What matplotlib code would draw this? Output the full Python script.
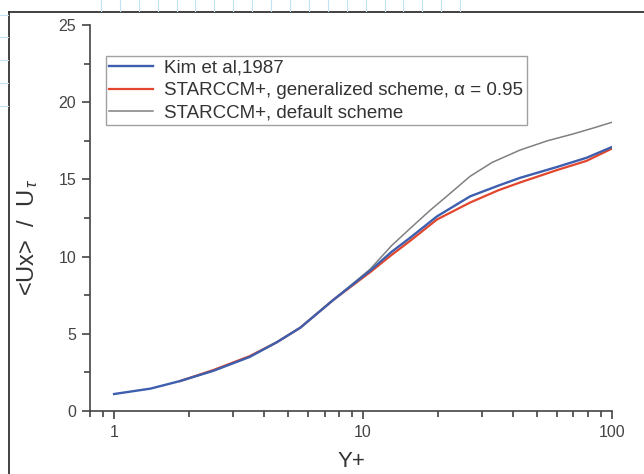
import matplotlib.pyplot as plt
from matplotlib.lines import Line2D
from matplotlib.ticker import LogLocator, FixedLocator, MultipleLocator, NullFormatter

plt.rcParams['font.family'] = ['Liberation Sans', 'DejaVu Sans']
plt.rcParams['mathtext.fontset'] = 'custom'
plt.rcParams['mathtext.rm'] = 'Liberation Sans'
plt.rcParams['mathtext.it'] = 'Liberation Sans:italic'

# Kim et al. (1987) DNS profile
kim_y = [1.0, 1.4, 1.84, 2.5, 3.5, 4.5, 5.6, 7.6, 10.7, 13.0, 15.4, 19.8, 26.9, 35.0, 42.7, 60.0, 79.0, 100.0]
kim_u = [1.1, 1.45, 1.94, 2.6, 3.5, 4.45, 5.4, 7.2, 9.1, 10.3, 11.2, 12.6, 13.9, 14.6, 15.1, 15.8, 16.4, 17.1]

# STAR-CCM+ generalized scheme
gen_y = [1.84, 2.5, 3.5, 4.5, 5.6, 7.6, 10.7, 13.0, 15.4, 19.8, 26.9, 35.0, 42.7, 60.0, 79.0, 100.0]
gen_u = [1.94, 2.65, 3.55, 4.45, 5.4, 7.2, 9.0, 10.1, 11.0, 12.4, 13.5, 14.3, 14.8, 15.6, 16.2, 17.0]

# STAR-CCM+ default scheme
def_y = [1.84, 2.5, 3.5, 4.5, 5.6, 7.6, 10.7, 13.0, 15.4, 18.6, 22.4, 26.9, 33.0, 42.7, 55.0, 70.0, 85.0, 100.0]
def_u = [1.94, 2.6, 3.5, 4.45, 5.4, 7.2, 9.2, 10.7, 11.8, 13.0, 14.1, 15.2, 16.1, 16.9, 17.5, 17.95, 18.35, 18.7]

fig = plt.figure(figsize=(6.44, 4.74), dpi=100)
ax = fig.add_axes([90 / 644, 1 - 411 / 474, 522 / 644, 386 / 474])

ax.plot(def_y, def_u, color='#808080', lw=1.1, zorder=2, label='STARCCM+, default scheme')
ax.plot(gen_y, gen_u, color='#e2462c', lw=1.6, zorder=3,
        label='STARCCM+, generalized scheme, \u03b1 = 0.95')
ax.plot(kim_y, kim_u, color='#3d5fae', lw=1.7, zorder=4, label='Kim et al,1987')

ax.set_xscale('log')
ax.set_xlim(0.8, 100)
ax.set_ylim(0, 25)

for s in ['top', 'right']:
    ax.spines[s].set_visible(False)
for s in ['left', 'bottom']:
    ax.spines[s].set_color('#444444')
    ax.spines[s].set_linewidth(1.2)

ax.xaxis.set_major_locator(FixedLocator([1, 10, 100]))
ax.xaxis.set_minor_locator(LogLocator(base=10, subs=range(2, 10), numticks=10))
ax.xaxis.set_minor_formatter(NullFormatter())
ax.set_xticklabels(['1', '10', '100'])
ax.yaxis.set_major_locator(MultipleLocator(5))
ax.yaxis.set_minor_locator(MultipleLocator(2.5))
ax.tick_params(which='major', length=6, width=1.2, color='#444444', labelsize=11.5,
               labelcolor='#444444', pad=4)
ax.tick_params(which='minor', length=4, width=1.2, color='#444444')

ax.set_xlabel('Y+', fontsize=16, color='#333333', labelpad=8)
ax.set_ylabel(r'<Ux>  /  U$_{\,\tau}$', fontsize=17, color='#333333')
ax.yaxis.set_label_coords(-0.095, 0.45)

handles, labels = ax.get_legend_handles_labels()
order = [2, 1, 0]
leg = ax.legend([handles[i] for i in order], [labels[i] for i in order],
                loc='upper left', bbox_to_anchor=(0.03, 0.92), borderaxespad=0,
                fontsize=13.5, frameon=True, fancybox=False, handlelength=2.3,
                labelspacing=0.28, borderpad=0.2, handletextpad=0.6)
leg.get_frame().set_edgecolor('#8a8a8a')
leg.get_frame().set_linewidth(1.0)
for t in leg.get_texts():
    t.set_color('#333333')

# page frame and cell lines around the figure
fig.add_artist(Line2D([9 / 644, 1], [1 - 11.5 / 474] * 2, color='#333333', lw=1.3))
fig.add_artist(Line2D([9 / 644] * 2, [0, 1 - 11.5 / 474], color='#333333', lw=1.3))
for i in range(20):
    xp = (101 + i * 18.9) / 644
    fig.add_artist(Line2D([xp, xp], [1 - 11 / 474, 1], color='#bfe3f5', lw=0.8))
for yp in [15, 37, 60, 83, 106]:
    fig.add_artist(Line2D([0, 8 / 644], [1 - yp / 474] * 2, color='#bfe3f5', lw=0.8))

fig.savefig('out.png', dpi=100)
